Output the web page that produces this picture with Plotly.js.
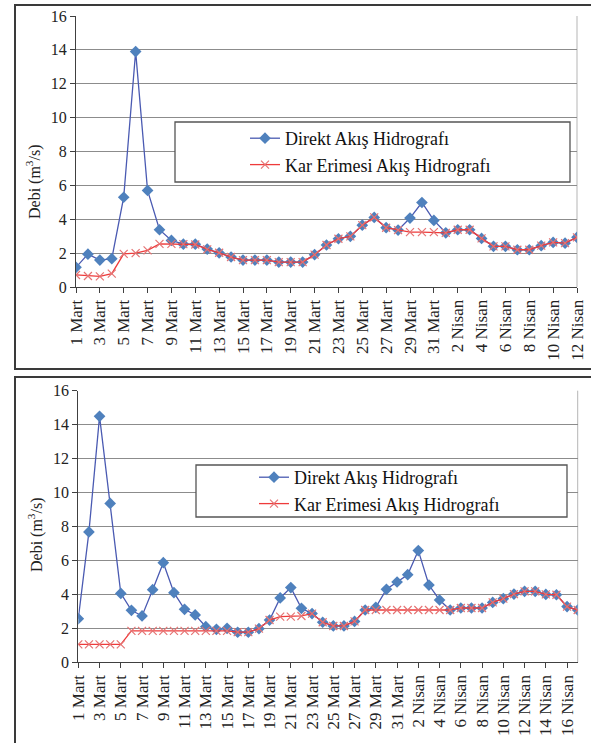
<!DOCTYPE html>
<html>
<head>
<meta charset="utf-8">
<script src="https://cdn.plot.ly/plotly-3.0.1.min.js"></script>
<style>html,body{margin:0;padding:0;background:#fff;}#chart{width:591px;height:743px;}</style>
</head>
<body>
<div id="chart"></div>
<script>
// ---------- DATA ----------
var daysTop = ["1 Mart","2 Mart","3 Mart","4 Mart","5 Mart","6 Mart","7 Mart","8 Mart","9 Mart","10 Mart",
  "11 Mart","12 Mart","13 Mart","14 Mart","15 Mart","16 Mart","17 Mart","18 Mart","19 Mart","20 Mart",
  "21 Mart","22 Mart","23 Mart","24 Mart","25 Mart","26 Mart","27 Mart","28 Mart","29 Mart","30 Mart","31 Mart",
  "1 Nisan","2 Nisan","3 Nisan","4 Nisan","5 Nisan","6 Nisan","7 Nisan","8 Nisan","9 Nisan","10 Nisan","11 Nisan","12 Nisan"];
var tickLabelsTop = ["1 Mart","3 Mart","5 Mart","7 Mart","9 Mart","11 Mart","13 Mart","15 Mart","17 Mart","19 Mart",
  "21 Mart","23 Mart","25 Mart","27 Mart","29 Mart","31 Mart","2 Nisan","4 Nisan","6 Nisan","8 Nisan","10 Nisan","12 Nisan"];
var direktTop = [1.16,1.94,1.59,1.67,5.30,13.9,5.70,3.38,2.75,2.53,
  2.53,2.24,2.02,1.77,1.59,1.59,1.59,1.47,1.47,1.47,
  1.91,2.48,2.85,2.99,3.65,4.11,3.50,3.36,4.07,4.99,3.93,
  3.20,3.38,3.38,2.87,2.40,2.40,2.20,2.20,2.44,2.63,2.59,2.93];
var karTop = [0.71,0.65,0.63,0.79,1.96,2.00,2.16,2.55,2.55,2.53,
  2.51,2.22,2.02,1.77,1.59,1.59,1.59,1.47,1.47,1.47,
  1.91,2.48,2.85,2.99,3.65,4.11,3.50,3.36,3.24,3.24,3.24,
  3.20,3.38,3.38,2.87,2.40,2.40,2.20,2.20,2.44,2.63,2.59,2.93];

var daysBottom = ["1 Mart","2 Mart","3 Mart","4 Mart","5 Mart","6 Mart","7 Mart","8 Mart","9 Mart","10 Mart",
  "11 Mart","12 Mart","13 Mart","14 Mart","15 Mart","16 Mart","17 Mart","18 Mart","19 Mart","20 Mart",
  "21 Mart","22 Mart","23 Mart","24 Mart","25 Mart","26 Mart","27 Mart","28 Mart","29 Mart","30 Mart","31 Mart",
  "1 Nisan","2 Nisan","3 Nisan","4 Nisan","5 Nisan","6 Nisan","7 Nisan","8 Nisan","9 Nisan","10 Nisan",
  "11 Nisan","12 Nisan","13 Nisan","14 Nisan","15 Nisan","16 Nisan","17 Nisan"];
var tickLabelsBottom = ["1 Mart","3 Mart","5 Mart","7 Mart","9 Mart","11 Mart","13 Mart","15 Mart","17 Mart","19 Mart",
  "21 Mart","23 Mart","25 Mart","27 Mart","29 Mart","31 Mart","2 Nisan","4 Nisan","6 Nisan","8 Nisan",
  "10 Nisan","12 Nisan","14 Nisan","16 Nisan"];
var direktBottom = [2.57,7.68,14.49,9.36,4.06,3.06,2.73,4.28,5.87,4.10,
  3.12,2.79,2.10,1.94,2.00,1.77,1.77,1.98,2.49,3.79,
  4.40,3.18,2.87,2.36,2.14,2.14,2.41,3.08,3.24,4.30,4.73,
  5.16,6.58,4.55,3.67,3.08,3.20,3.20,3.20,3.53,3.75,
  4.02,4.18,4.18,4.00,3.98,3.28,3.08];
var karBottom = [1.06,1.06,1.06,1.06,1.06,1.85,1.85,1.85,1.85,1.85,
  1.85,1.85,1.85,1.85,1.85,1.78,1.78,1.98,2.49,2.69,
  2.69,2.73,2.87,2.36,2.14,2.14,2.41,3.08,3.08,3.08,3.08,
  3.08,3.08,3.08,3.08,3.08,3.20,3.20,3.20,3.53,3.75,
  4.02,4.18,4.18,4.00,3.98,3.28,3.08];

var seriesNames = ["Direkt Akış Hidrografı", "Kar Erimesi Akış Hidrografı"];
var yTitle = "Debi (m<sup>3</sup>/s)";

// ---------- STYLE ----------
var W = 591, H = 743;
function px(x){ return x / W; }
function py(y){ return 1 - y / H; }
var SERIF = "Liberation Serif, Times New Roman, serif";
var blueLine = "#4A5AB2", blueMarker = "#4F81BD";
var redLine = "#EE3B3B", redMarker = "#E57373";

function direkt(x, y, xa, ya, lg) {
  return {x: x, y: y, xaxis: xa, yaxis: ya, type: "scatter", mode: "lines+markers",
    name: seriesNames[0], legend: lg,
    line: {color: blueLine, width: 1.3},
    marker: {symbol: "diamond", size: 9, color: blueMarker, line: {width: 0}}};
}
function kar(x, y, xa, ya, lg) {
  return {x: x, y: y, xaxis: xa, yaxis: ya, type: "scatter", mode: "lines+markers",
    name: seriesNames[1], legend: lg,
    line: {color: redLine, width: 1.3},
    marker: {symbol: "x-thin", size: 8, color: redMarker, line: {width: 1.2, color: redMarker}}};
}

var data = [
  direkt(daysTop, direktTop, "x", "y", "legend"),
  kar(daysTop, karTop, "x", "y", "legend"),
  direkt(daysBottom, direktBottom, "x2", "y2", "legend2"),
  kar(daysBottom, karBottom, "x2", "y2", "legend2")
];

function xAxis(domain, anchor, cats, ticks) {
  return {domain: domain, anchor: anchor, type: "category", range: [0, cats.length - 1],
    tickmode: "array", tickvals: ticks, ticktext: ticks, tickangle: -90,
    ticks: "outside", ticklen: 5, tickcolor: "#404040", showline: true, linecolor: "#404040", linewidth: 1,
    showgrid: false, zeroline: false, automargin: false, fixedrange: true,
    tickfont: {family: SERIF, size: 17, color: "#222"}};
}
function yAxis(domain, anchor) {
  return {domain: domain, anchor: anchor, range: [0, 16], tick0: 0, dtick: 2,
    ticks: "outside", ticklen: 5, tickcolor: "#404040", showline: true, linecolor: "#404040", linewidth: 1,
    showgrid: true, gridcolor: "#8c8c8c", gridwidth: 1, zeroline: false, automargin: false, fixedrange: true,
    tickfont: {family: SERIF, size: 16, color: "#222"}};
}

var topPlot = {x0: 76, x1: 577, y0: 16, y1: 287};
var botPlot = {x0: 78.3, x1: 577.7, y0: 390.7, y1: 662.3};

var layout = {
  width: W, height: H, margin: {l: 0, r: 0, t: 0, b: 0},
  paper_bgcolor: "#fff", plot_bgcolor: "#fff", showlegend: true,
  xaxis: xAxis([px(topPlot.x0), px(topPlot.x1)], "y", daysTop, tickLabelsTop),
  yaxis: yAxis([py(topPlot.y1), py(topPlot.y0)], "x"),
  xaxis2: xAxis([px(botPlot.x0), px(botPlot.x1)], "y2", daysBottom, tickLabelsBottom),
  yaxis2: yAxis([py(botPlot.y1), py(botPlot.y0)], "x2"),
  legend: {x: px(245), y: py(120), xanchor: "left", yanchor: "top", bgcolor: "rgba(0,0,0,0)",
    borderwidth: 0, tracegroupgap: 0, font: {family: SERIF, size: 18, color: "#111"}},
  legend2: {x: px(254), y: py(459), xanchor: "left", yanchor: "top", bgcolor: "rgba(0,0,0,0)",
    borderwidth: 0, tracegroupgap: 0, font: {family: SERIF, size: 18, color: "#111"}},
  annotations: [
    {text: yTitle, xref: "paper", yref: "paper", x: px(33), y: py(182), textangle: -90,
      showarrow: false, xanchor: "center", yanchor: "middle", font: {family: SERIF, size: 16, color: "#222"}},
    {text: yTitle, xref: "paper", yref: "paper", x: px(35), y: py(535), textangle: -90,
      showarrow: false, xanchor: "center", yanchor: "middle", font: {family: SERIF, size: 16, color: "#222"}}
  ],
  shapes: [
    // outer chart frames
    {type: "rect", xref: "paper", yref: "paper", x0: px(15), x1: px(605), y0: py(369), y1: py(5),
      line: {color: "#3a3a3a", width: 2}, layer: "below"},
    {type: "rect", xref: "paper", yref: "paper", x0: px(15), x1: px(605), y0: py(760), y1: py(377),
      line: {color: "#3a3a3a", width: 2}, layer: "below"},
    // right plot-area borders
    {type: "line", xref: "paper", yref: "paper", x0: px(topPlot.x1), x1: px(topPlot.x1), y0: py(topPlot.y1), y1: py(topPlot.y0),
      line: {color: "#b5b5b5", width: 1}, layer: "below"},
    {type: "line", xref: "paper", yref: "paper", x0: px(botPlot.x1), x1: px(botPlot.x1), y0: py(botPlot.y1), y1: py(botPlot.y0),
      line: {color: "#b5b5b5", width: 1}, layer: "below"},
    // legend boxes
    {type: "rect", xref: "paper", yref: "paper", x0: px(175), x1: px(570), y0: py(182), y1: py(122),
      line: {color: "#555", width: 1.3}, fillcolor: "#fff", layer: "above"},
    {type: "rect", xref: "paper", yref: "paper", x0: px(196), x1: px(567), y0: py(517), y1: py(465),
      line: {color: "#555", width: 1.3}, fillcolor: "#fff", layer: "above"}
  ]
};

Plotly.newPlot("chart", data, layout, {displayModeBar: false, staticPlot: true});
</script>
</body>
</html>
